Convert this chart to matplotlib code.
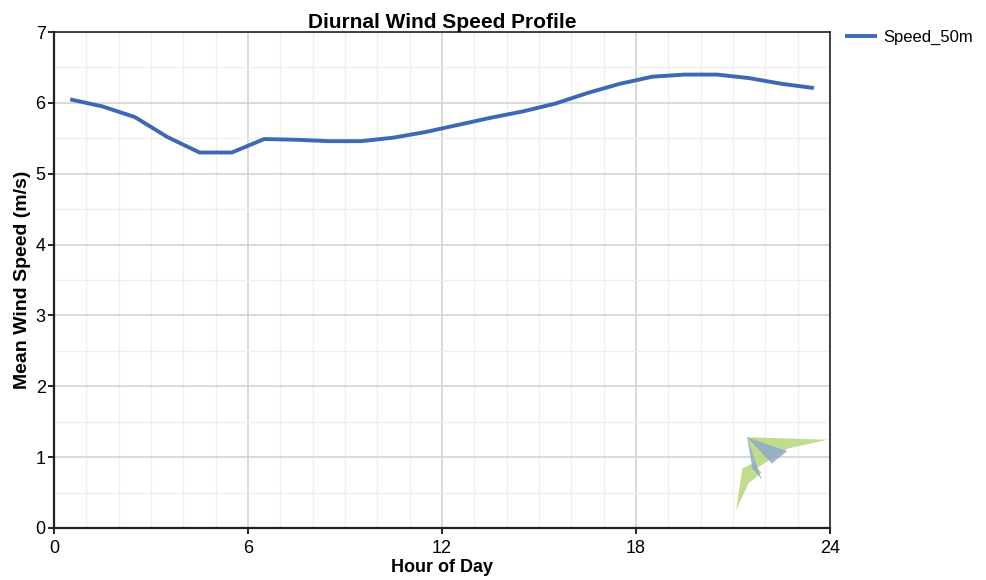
import numpy as np
import matplotlib.pyplot as plt
from matplotlib.patches import Polygon
from matplotlib.ticker import MultipleLocator

plt.rcParams['font.family'] = ['Liberation Sans', 'DejaVu Sans']

# hourly mean wind speed at 50 m, plotted at mid-hour
hours = [0.5, 1.5, 2.5, 3.5, 4.5, 5.5, 6.5, 7.5, 8.5, 9.5, 10.5, 11.5,
         12.5, 13.5, 14.5, 15.5, 16.5, 17.5, 18.5, 19.5, 20.5, 21.5, 22.5, 23.5]
speed_50m = [6.05, 5.95, 5.80, 5.52, 5.30, 5.30, 5.49, 5.48, 5.46, 5.46, 5.51, 5.59,
             5.69, 5.79, 5.88, 5.99, 6.14, 6.27, 6.37, 6.40, 6.40, 6.35, 6.27, 6.21]
x_ticks = [0, 6, 12, 18, 24]
y_ticks = [0, 1, 2, 3, 4, 5, 6, 7]

fig = plt.figure(figsize=(9.86, 5.8), dpi=100)
ax = fig.add_axes([0.0548, 0.0897, 0.787, 0.855])

ax.plot(hours, speed_50m, color='#3c68b5', lw=2.8, label='Speed_50m',
        solid_capstyle='butt')

ax.set_xlim(0, 24)
ax.set_ylim(0, 7)
ax.set_xticks(x_ticks)
ax.set_yticks(y_ticks)
ax.xaxis.set_minor_locator(MultipleLocator(1))
ax.yaxis.set_minor_locator(MultipleLocator(0.5))
ax.grid(which='major', color='#d0d0d0', lw=1.1)
ax.grid(which='minor', color='#efefef', lw=0.9)
ax.set_axisbelow(True)
ax.tick_params(which='major', direction='out', length=4, width=1.2, labelsize=13, pad=2)
ax.tick_params(axis='x', which='major', pad=5)
ax.tick_params(which='minor', length=0)
for s in ax.spines.values():
    s.set_color('#222222')
    s.set_linewidth(1.2)
ax.spines['left'].set_linewidth(1.6)
ax.spines['bottom'].set_linewidth(1.6)

ax.set_title('Diurnal Wind Speed Profile', fontsize=15, fontweight='bold', pad=3)
ax.set_xlabel('Hour of Day', fontsize=13, fontweight='bold', labelpad=1)
ax.set_ylabel('Mean Wind Speed (m/s)', fontsize=14, fontweight='bold', labelpad=3)

ax.legend(loc='upper left', bbox_to_anchor=(1.0, 1.035), frameon=False,
          fontsize=12, handlelength=1.9, handletextpad=0.4)

# faint logo watermark, lower right
green = '#b5d67a'
blue = '#8fa9c8'
logo = [
    ([(0.893, 0.183), (0.997, 0.178), (0.945, 0.160), (0.915, 0.130), (0.905, 0.120)], green),
    ([(0.887, 0.120), (0.879, 0.036), (0.895, 0.090), (0.912, 0.112), (0.900, 0.130)], green),
    ([(0.893, 0.183), (0.945, 0.155), (0.925, 0.130)], blue),
    ([(0.893, 0.183), (0.912, 0.098), (0.900, 0.120)], blue),
]
for pts, c in logo:
    ax.add_patch(Polygon(pts, closed=True, transform=ax.transAxes, color=c,
                         alpha=0.85, lw=0, zorder=1))

fig.savefig('out.png', dpi=100)
